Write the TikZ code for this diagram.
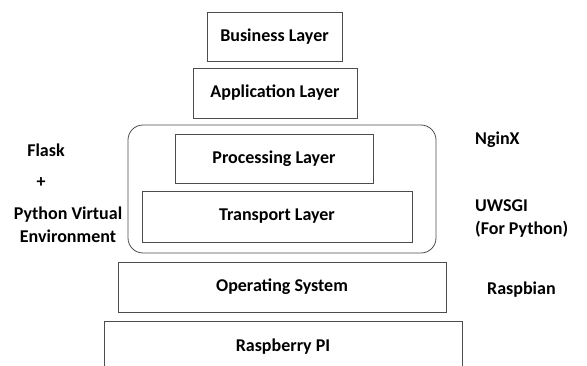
\documentclass[tikz,border=0pt]{standalone}
\usepackage{fontspec}
\setmainfont{Carlito}
\begin{document}
\begin{tikzpicture}[x=1pt, y=-1pt, font=\bfseries\fontsize{18}{23}\selectfont]
        \tikzstyle{layer}=[draw=black!70, rectangle, line width=0.8pt, inner sep=0pt, align=center]
        \tikzstyle{note}=[inner sep=0pt, align=left, anchor=west]

        \useasboundingbox (0,0) rectangle (587,366);
        \clip (0,0) rectangle (587,366);

        % web stack box
        \node[layer, rounded corners=15pt, minimum width=308pt, minimum height=128pt] (stack) at (282,189) {};

        \node[layer, minimum width=135pt, minimum height=49pt] (business) at (274.5,36.5) {Business Layer};
        \node[layer, minimum width=164pt, minimum height=50pt] (application) at (275,93) {Application Layer};
        \node[layer, minimum width=198pt, minimum height=49pt] (processing) at (274,158.5) {Processing Layer};
        \node[layer, minimum width=270pt, minimum height=51pt] (transport) at (277,216.5) {Transport Layer};
        \node[layer, minimum width=328pt, minimum height=50pt] (os) at (282,287) {Operating System};
        \node[layer, minimum width=358pt, minimum height=52pt] (pi) at (283,347) {Raspberry PI};

        % left side
        \node[inner sep=0pt] (flask) at (46,150) {Flask};
        \node[inner sep=0pt] (plus) at (41,183) {+};
        \node[inner sep=0pt, align=center] (venv) at (68,225) {Python Virtual\\Environment};

        % right side
        \node[note] (nginx) at (475,140) {NginX};
        \node[note] (uwsgi) at (475,219) {UWSGI\\(For Python)};
        \node[note] (raspbian) at (487,290) {Raspbian};
    \end{tikzpicture}
\end{document}
